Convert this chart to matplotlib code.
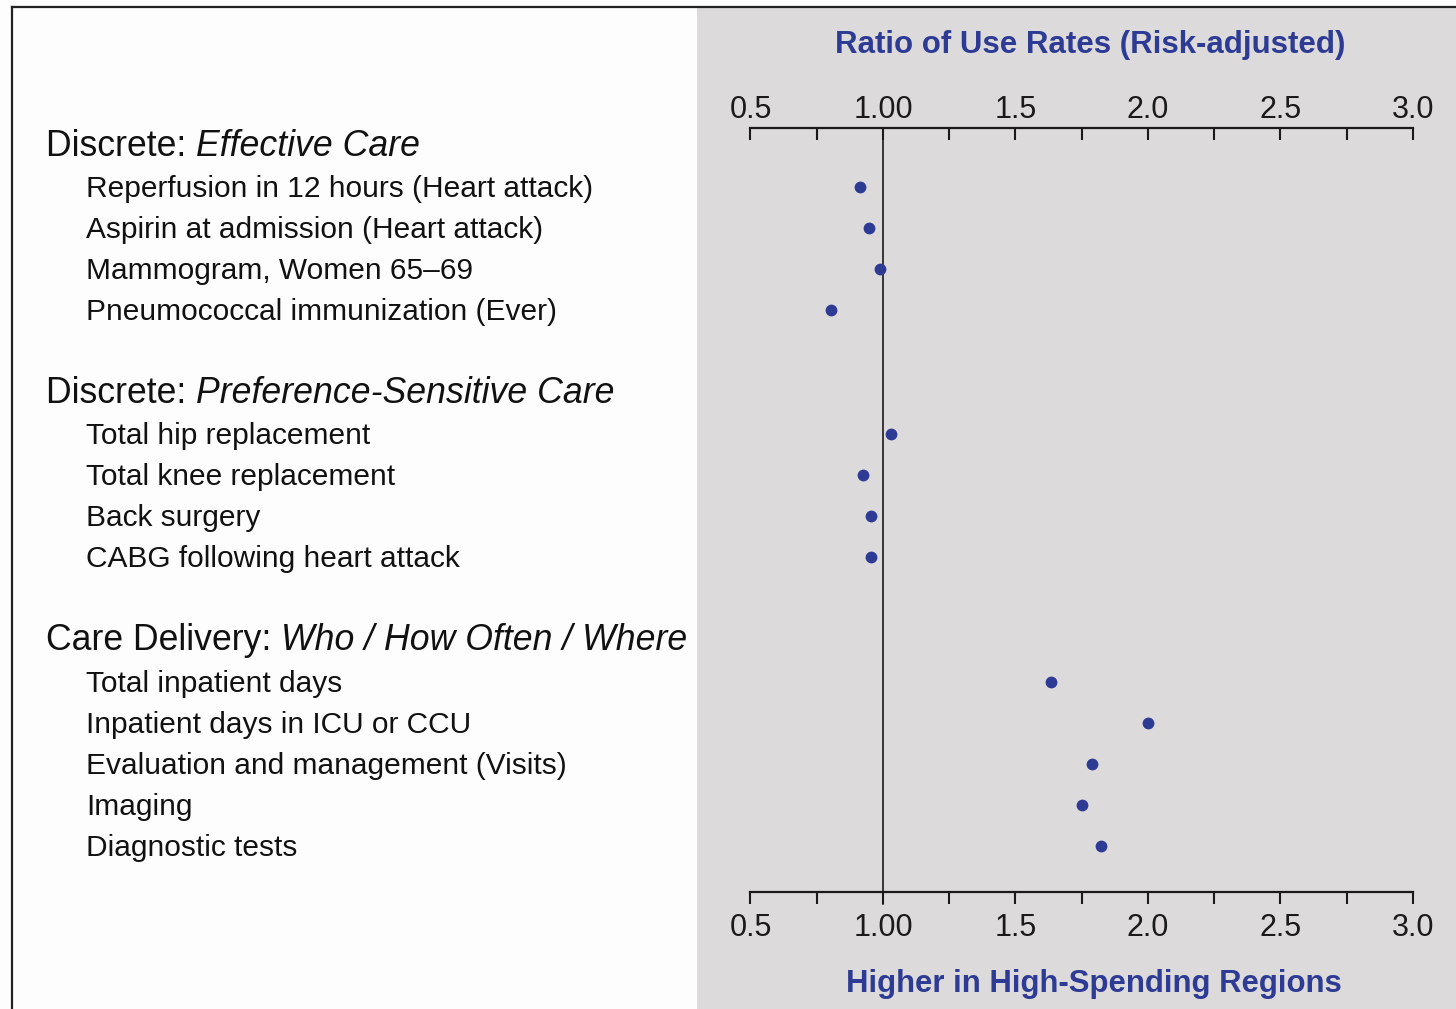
import matplotlib.pyplot as plt
from matplotlib.patches import Rectangle
from matplotlib.lines import Line2D
from matplotlib.ticker import FixedLocator, MultipleLocator
import matplotlib.transforms as mtransforms

plt.rcParams["font.family"] = ["Liberation Sans", "DejaVu Sans"]

BLUE = "#2d3b94"
GREY = "#dcdadb"
INK = "#1a1a1a"

# data
effective_items = ["Reperfusion in 12 hours (Heart attack)",
                   "Aspirin at admission (Heart attack)",
                   "Mammogram, Women 65\u201369",
                   "Pneumococcal immunization (Ever)"]
effective_ratio = [0.913, 0.948, 0.988, 0.805]

preference_items = ["Total hip replacement",
                    "Total knee replacement",
                    "Back surgery",
                    "CABG following heart attack"]
preference_ratio = [1.029, 0.926, 0.954, 0.954]

delivery_items = ["Total inpatient days",
                  "Inpatient days in ICU or CCU",
                  "Evaluation and management (Visits)",
                  "Imaging",
                  "Diagnostic tests"]
delivery_ratio = [1.634, 1.999, 1.789, 1.750, 1.824]

group_heads = [("Discrete: ", "Effective Care"),
               ("Discrete: ", "Preference-Sensitive Care"),
               ("Care Delivery: ", "Who / How Often / Where")]

tick_values = [0.5, 1.0, 1.5, 2.0, 2.5, 3.0]
tick_labels = ["0.5", "1.00", "1.5", "2.0", "2.5", "3.0"]

W, H = 1456, 1009
fig = plt.figure(figsize=(W / 100, H / 100), dpi=100)
fig.patch.set_facecolor("#fdfdfd")

# grey panel and frame lines (behind the axes)
fig.patches.append(Rectangle((697 / W, 0), 1 - 697 / W, 1 - 8 / H,
                             transform=fig.transFigure, facecolor=GREY,
                             edgecolor="none", zorder=-5))
fig.lines.append(Line2D([12 / W, 1], [1 - 7 / H, 1 - 7 / H],
                        transform=fig.transFigure, color="#222222", lw=1.6,
                        zorder=-4))
fig.lines.append(Line2D([12 / W, 12 / W], [0, 1 - 7 / H],
                        transform=fig.transFigure, color="#222222", lw=1.6,
                        zorder=-4))

ax_top_px, ax_bot_px = 128.3, 891.7
ax = fig.add_axes([750.5 / W, 1 - ax_bot_px / H, 662.5 / W,
                   (ax_bot_px - ax_top_px) / H])
ax.patch.set_alpha(0)

# row layout (one row = 41 px)
groups = [(group_heads[0], effective_items, effective_ratio),
          (group_heads[1], preference_items, preference_ratio),
          (group_heads[2], delivery_items, delivery_ratio)]
pos = 0.0
layout = []
for head, items, vals in groups:
    head_y = pos
    item_y = [head_y + 1.1 + i for i in range(len(items))]
    layout.append((head, head_y, items, item_y, vals))
    pos = item_y[-1] + 1.93

ax.set_xlim(0.5, 3.0)
ax.set_ylim((ax_bot_px - 142) / 41, (ax_top_px - 142) / 41)

tick_len = 8.6
# reference line at 1.0, running down to the tips of the bottom ticks
ax.axvline(1.0, ymin=-tick_len / 0.72 / (ax_bot_px - ax_top_px), ymax=1,
           color=INK, lw=1.2, zorder=1, clip_on=False)

trans = mtransforms.blended_transform_factory(fig.transFigure, ax.transData)
head_trans = mtransforms.offset_copy(trans, fig=fig, y=-4, units="dots")
item_trans = mtransforms.offset_copy(trans, fig=fig, y=-2, units="dots")
fig.canvas.draw()
renderer = fig.canvas.get_renderer()
for head, head_y, items, item_y, vals in layout:
    t = ax.text(46 / W, head_y, head[0], transform=head_trans, fontsize=25.7,
                va="center", ha="left", color="#111111", clip_on=False)
    bb = t.get_window_extent(renderer)
    ax.text(bb.x1 / W, head_y, head[1], transform=head_trans, fontsize=25.7,
            style="italic", va="center", ha="left", color="#111111",
            clip_on=False)
    for name, y in zip(items, item_y):
        ax.text(86 / W, y, name, transform=item_trans, fontsize=21.5,
                va="center", ha="left", color="#111111", clip_on=False)
    ax.plot(vals, item_y, "o", color=BLUE, ms=8.5, mec="none",
            clip_on=False, zorder=3)

# bottom axis: ticks pointing out
ax.xaxis.set_major_locator(FixedLocator(tick_values))
ax.set_xticklabels(tick_labels)
ax.xaxis.set_minor_locator(MultipleLocator(0.25))
ax.tick_params(axis="x", which="both", direction="out", top=False,
               bottom=True, labeltop=False, labelbottom=True,
               length=tick_len, width=1.5, color=INK, labelsize=22, pad=6.5,
               labelcolor=INK)
ax.tick_params(axis="y", left=False, labelleft=False)
for side in ["left", "right", "top"]:
    ax.spines[side].set_visible(False)
ax.spines["bottom"].set_linewidth(1.6)
ax.spines["bottom"].set_color(INK)

# top axis: ticks pointing in
top = ax.secondary_xaxis("top")
top.xaxis.set_major_locator(FixedLocator(tick_values))
top.set_xticklabels(tick_labels)
top.xaxis.set_minor_locator(MultipleLocator(0.25))
top.tick_params(axis="x", which="both", direction="in", length=tick_len,
                width=1.5, color=INK, labelsize=22, pad=2.6, labelcolor=INK)
top.spines["top"].set_linewidth(1.6)
top.spines["top"].set_color(INK)

fig.text(1090 / W, 1 - 45 / H, "Ratio of Use Rates (Risk-adjusted)",
         fontsize=22.5, fontweight="bold", color=BLUE, ha="center", va="center")
fig.text(1094 / W, 1 - 984 / H, "Higher in High-Spending Regions",
         fontsize=22.4, fontweight="bold", color=BLUE, ha="center", va="center")

fig.savefig("out.png", dpi=100, facecolor=fig.get_facecolor())
